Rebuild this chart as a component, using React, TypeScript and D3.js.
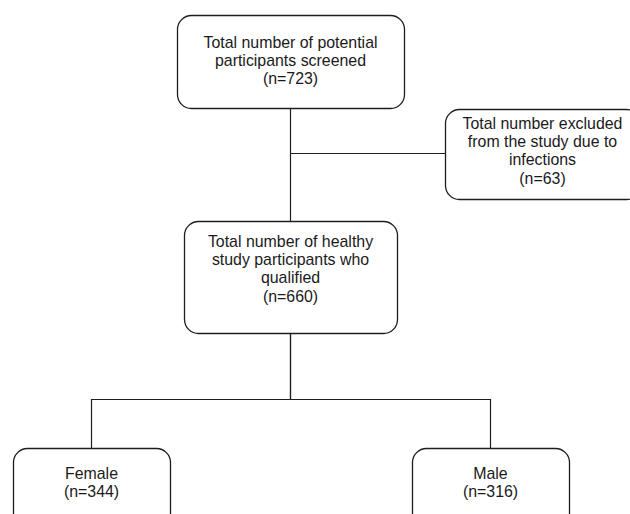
import React from "react";
import * as d3 from "d3";

// ---- data ----
const nodeIds = ["screened", "excluded", "qualified", "female", "male"];
const nodeLines: string[][] = [
  ["Total number of potential", "participants screened"],
  ["Total number excluded", "from the study due to", "infections"],
  ["Total number of healthy", "study participants who", "qualified"],
  ["Female"],
  ["Male"],
];
const nodeCounts = [723, 63, 660, 344, 316];
const edges: [string, string][] = [
  ["screened", "qualified"],
  ["screened", "excluded"],
  ["qualified", "female"],
  ["qualified", "male"],
];

// ---- layout (positions, not data) ----
const W = 630;
const H = 514;
const layout: Record<string, { x: number; y: number; w: number; h: number; t: number }> = {
  screened: { x: 177, y: 15, w: 227, h: 93, t: 33 },
  excluded: { x: 445, y: 109, w: 195, h: 90, t: 20 },
  qualified: { x: 184, y: 221, w: 213, h: 112, t: 26 },
  female: { x: 13, y: 448, w: 157, h: 100, t: 31 },
  male: { x: 412, y: 448, w: 157, h: 100, t: 31 },
};
const branchY = 153.5; // side branch to exclusion box
const splitY = 399.5; // split to female / male
const lineH = 18.2;
const stroke = "#1e1e1e";

export default function App() {
  const nodes = nodeIds.map((id, i) => ({
    id,
    lines: [...nodeLines[i], `(n=${nodeCounts[i]})`],
    ...layout[id],
  }));
  const byId = new Map(nodes.map((n) => [n.id, n]));
  const cx = (n: any) => n.x + n.w / 2;
  const lx = (n: any) => Math.floor(cx(n)) + 0.5;

  const paths = edges.map(([s, t]) => {
    const a = byId.get(s)!;
    const b = byId.get(t)!;
    const p = d3.path();
    if (t === "excluded") {
      p.moveTo(lx(a), branchY);
      p.lineTo(b.x, branchY);
    } else if (t === "qualified") {
      p.moveTo(lx(a), a.y + a.h);
      p.lineTo(lx(a), b.y);
    } else {
      p.moveTo(lx(a), a.y + a.h);
      p.lineTo(lx(a), splitY);
      p.lineTo(lx(b), splitY);
      p.lineTo(lx(b), b.y);
    }
    return { key: s + "-" + t, d: p.toString() };
  });

  return (
    <div style={{ position: "fixed", left: 0, top: 0, width: W, height: H, background: "#fff" }}>
      <svg width={W} height={H} viewBox={`0 0 ${W} ${H}`} style={{ display: "block" }}>
        <rect width={W} height={H} fill="#fff" />
        {paths.map((p) => (
          <path key={p.key} d={p.d} fill="none" stroke={stroke} strokeWidth={1.2} />
        ))}
        {nodes.map((n) => (
          <g key={n.id}>
            <rect
              x={n.x + 0.5}
              y={n.y + 0.5}
              width={n.w}
              height={n.h}
              rx={14}
              ry={14}
              fill="#fff"
              stroke={stroke}
              strokeWidth={1.3}
            />
            <text
              fontFamily="'Liberation Sans', Arial, sans-serif"
              fontSize={15.9}
              fill="#1a1a1a"
              textAnchor="middle"
            >
              {n.lines.map((l, i) => (
                <tspan key={i} x={cx(n)} y={n.y + n.t + i * lineH}>
                  {l}
                </tspan>
              ))}
            </text>
          </g>
        ))}
      </svg>
    </div>
  );
}
